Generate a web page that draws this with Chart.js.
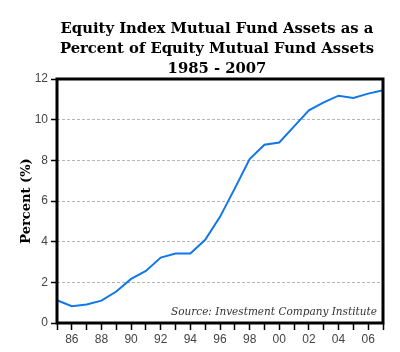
<!DOCTYPE html>
<html>
<head>
<meta charset="utf-8">
<script src="https://cdn.jsdelivr.net/npm/chart.js@4/dist/chart.umd.min.js"></script>
<style>
  html, body { margin: 0; padding: 0; background: #fff; }
  #c { display: block; }
</style>
</head>
<body>
<canvas id="c" width="400" height="352"></canvas>
<script>
const titleLines = ['Equity Index Mutual Fund Assets as a', 'Percent of Equity Mutual Fund Assets', '1985 - 2007'];
const sourceText = 'Source: Investment Company Institute';
const yAxisTitle = 'Percent (%)';

const years = ['1985','1986','1987','1988','1989','1990','1991','1992','1993','1994','1995','1996',
               '1997','1998','1999','2000','2001','2002','2003','2004','2005','2006','2007'];
const indexShare = [1.12, 0.83, 0.91, 1.1, 1.55, 2.17, 2.56, 3.22, 3.42, 3.42, 4.09, 5.22,
                    6.62, 8.06, 8.77, 8.88, 9.67, 10.46, 10.85, 11.18, 11.07, 11.28, 11.45];
const yTicks = [0, 2, 4, 6, 8, 10, 12];

const decorPlugin = {
  id: 'decor',
  afterDatasetsDraw(chart) {
    const {ctx, chartArea: a} = chart;
    ctx.save();
    ctx.strokeStyle = '#000';
    ctx.lineWidth = 3;
    ctx.strokeRect(a.left, a.top, a.right - a.left, a.bottom - a.top);
    ctx.fillStyle = '#333';
    ctx.font = 'italic 10.5px "DejaVu Serif"';
    ctx.textAlign = 'right';
    ctx.textBaseline = 'alphabetic';
    ctx.fillText(sourceText, a.right - 6, a.bottom - 8);
    ctx.restore();
  },
  afterDraw(chart) {
    const {ctx} = chart;
    ctx.save();
    ctx.fillStyle = '#000';
    ctx.font = 'bold 14.8px "DejaVu Serif"';
    ctx.textAlign = 'center';
    ctx.textBaseline = 'alphabetic';
    const baselines = [33, 53, 73];
    titleLines.forEach((t, i) => ctx.fillText(t, 217, baselines[i]));
    ctx.restore();
  }
};

new Chart(document.getElementById('c'), {
  type: 'line',
  data: {
    labels: years,
    datasets: [{
      data: indexShare,
      borderColor: '#1177e8',
      borderWidth: 2,
      pointRadius: 0,
      tension: 0,
      fill: false
    }]
  },
  options: {
    responsive: false,
    animation: false,
    devicePixelRatio: 1,
    layout: { padding: { left: 0, right: 17, top: 79, bottom: 0 } },
    plugins: { legend: { display: false }, tooltip: { enabled: false }, title: { display: false } },
    scales: {
      x: {
        type: 'category',
        offset: false,
        grid: { drawOnChartArea: false, drawTicks: true, tickLength: 7, color: '#000', tickColor: '#000', tickWidth: 1.5 },
        border: { display: false },
        ticks: {
          autoSkip: false, maxRotation: 0, minRotation: 0, padding: 2,
          color: '#444', font: { family: '"Liberation Sans", Arial', size: 12 },
          callback(v, i) { const y = +years[i]; return y % 2 === 0 ? years[i].slice(2) : ''; }
        },
        afterFit(s) { s.height = 29; }
      },
      y: {
        min: 0, max: 12,
        afterBuildTicks(s) { s.ticks = yTicks.map(v => ({ value: v })); },
        grid: { color: '#b5b5b5', lineWidth: 1, tickColor: '#000', tickLength: 6, tickWidth: 1.5, tickBorderDash: [] },
        border: { display: false, dash: [3, 2] },
        ticks: { padding: 3, color: '#444', font: { family: '"Liberation Sans", Arial', size: 12 } },
        title: { display: true, text: yAxisTitle, color: '#000', font: { family: '"DejaVu Serif"', size: 13, weight: 'bold' }, padding: { top: 19, bottom: 0 } },
        afterFit(s) { s.width = 57; }
      }
    }
  },
  plugins: [decorPlugin]
});
</script>
</body>
</html>
